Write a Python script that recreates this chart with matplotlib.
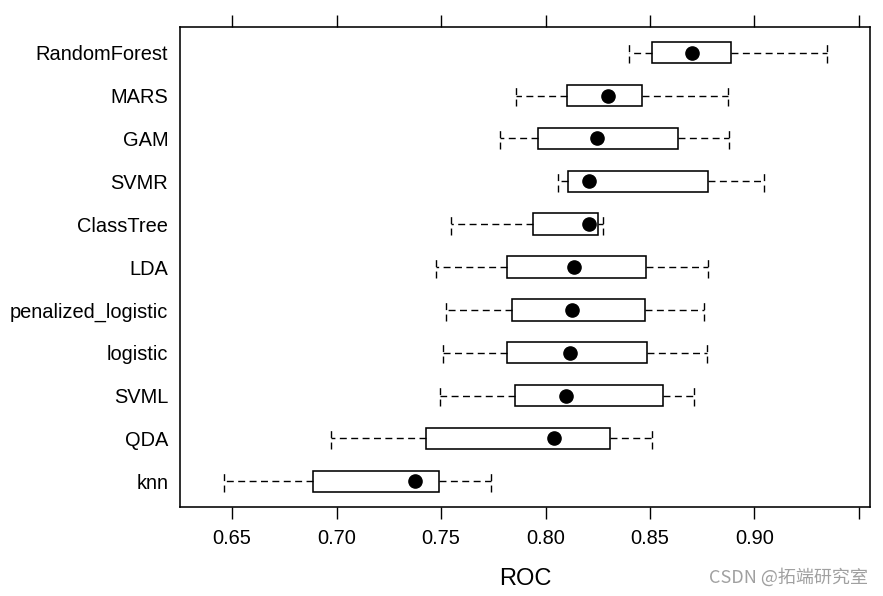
import matplotlib
matplotlib.use('Agg')
import matplotlib.pyplot as plt
import numpy as np

# bottom to top, as lattice bwplot draws them
models = ['knn', 'QDA', 'SVML', 'logistic', 'penalized_logistic', 'LDA',
          'ClassTree', 'SVMR', 'GAM', 'MARS', 'RandomForest']
whislo = [0.6459, 0.6972, 0.7494, 0.7511, 0.7526, 0.7478, 0.7546, 0.8062, 0.7783, 0.7859, 0.8398]
q1 = [0.6885, 0.7430, 0.7854, 0.7815, 0.7839, 0.7815, 0.7938, 0.8110, 0.7966, 0.8104, 0.8511]
med = [0.7374, 0.8039, 0.8100, 0.8116, 0.8126, 0.8136, 0.8206, 0.8206, 0.8246, 0.8300, 0.8702]
q3 = [0.7489, 0.8311, 0.8560, 0.8488, 0.8476, 0.8482, 0.8249, 0.8779, 0.8632, 0.8461, 0.8887]
whishi = [0.7739, 0.8511, 0.8710, 0.8772, 0.8757, 0.8776, 0.8276, 0.9044, 0.8876, 0.8872, 0.9348]
xticks = [0.65, 0.70, 0.75, 0.80, 0.85, 0.90, 0.95]
xticklabels = ['0.65', '0.70', '0.75', '0.80', '0.85', '0.90', '']

plt.rcParams['font.family'] = ['Liberation Sans', 'DejaVu Sans']

fig = plt.figure(figsize=(8.83, 5.96), dpi=100)
ax = fig.add_axes([0.2039, 0.1493, 0.7814, 0.8054])

stats = []
for i in range(len(models)):
    stats.append({'whislo': whislo[i], 'q1': q1[i], 'med': med[i],
                  'q3': q3[i], 'whishi': whishi[i], 'fliers': []})

pos = np.arange(1, len(models) + 1)
dash = (0, (5, 3.2))
ax.bxp(stats, positions=pos, vert=False, widths=0.5, capwidths=0.5,
       showfliers=False, patch_artist=True,
       boxprops=dict(facecolor='white', edgecolor='black', linewidth=1.15),
       whiskerprops=dict(color='black', linewidth=1.0, linestyle=dash),
       capprops=dict(color='black', linewidth=1.0, linestyle=dash),
       medianprops=dict(visible=False))
ax.plot(med, pos, 'o', color='black', markersize=9.5, zorder=5)

ax.set_xlim(0.6251, 0.9553)
ax.set_ylim(0.4, 11.6)
ax.set_yticks(pos)
ax.set_yticklabels(models, fontsize=14.4)
ax.set_xticks(xticks)
ax.set_xticklabels(xticklabels, fontsize=14.4)
ax.tick_params(axis='y', length=0, pad=8.5)
ax.tick_params(axis='x', direction='out', length=8.5, width=1.0, pad=7,
               top=True, labeltop=False)
for s in ax.spines.values():
    s.set_linewidth(1.15)
ax.set_xlabel('ROC', fontsize=17, labelpad=15)

fig.text(0.983, 0.031, 'CSDN @拓端研究室', ha='right', va='center', fontsize=13,
         color='#a0a0a0', family=['Noto Sans CJK SC', 'DejaVu Sans'])

fig.savefig('out.png', dpi=100)
